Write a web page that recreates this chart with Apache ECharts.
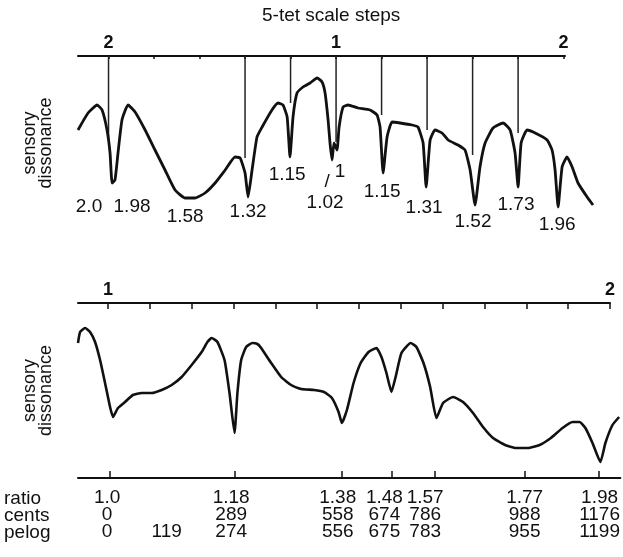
<!DOCTYPE html>
<html>
<head>
<meta charset="utf-8">
<script src="https://cdn.jsdelivr.net/npm/echarts@6/dist/echarts.min.js"></script>
<style>
  html, body { margin: 0; padding: 0; background: #fff; }
  #main { width: 623px; height: 557px; }
</style>
</head>
<body>
<div id="main"></div>
<script>
// top panel: dissonance curve against interval in cents (0 = unison "1")
var topCents = [-1361, -1308, -1260, -1234, -1208, -1192, -1181, -1166, -1150, -1129, -1097, -1060, -1007, -955, -902, -849, -796, -744, -691, -638, -585, -533, -506, -480, -464, -443, -417, -390, -338, -306, -280, -258, -243, -227, -206, -174, -137, -100, -74, -58, -42, -32, -21, -11, 5, 16, 37, 63, 116, 179, 216, 232, 248, 269, 295, 338, 401, 432, 459, 475, 496, 522, 559, 591, 643, 680, 707, 733, 759, 786, 828, 881, 918, 944, 960, 976, 1007, 1050, 1113, 1139, 1155, 1171, 1192, 1218, 1245, 1276, 1324, 1355];
var topDiss = [1.00, 1.17, 1.25, 1.20, 1.00, 0.77, 0.47, 0.50, 0.77, 1.10, 1.25, 1.18, 1.00, 0.80, 0.60, 0.40, 0.32, 0.32, 0.37, 0.47, 0.60, 0.73, 0.72, 0.57, 0.33, 0.60, 0.93, 1.03, 1.20, 1.27, 1.25, 1.13, 0.73, 1.13, 1.37, 1.43, 1.47, 1.52, 1.48, 1.37, 1.10, 0.87, 0.70, 0.87, 0.80, 1.03, 1.23, 1.25, 1.22, 1.20, 1.15, 1.03, 0.57, 0.93, 1.08, 1.07, 1.05, 1.03, 0.87, 0.43, 0.90, 1.00, 0.97, 0.90, 0.85, 0.80, 0.60, 0.25, 0.63, 0.87, 1.02, 1.07, 1.00, 0.77, 0.43, 0.87, 1.00, 0.97, 0.90, 0.80, 0.60, 0.23, 0.63, 0.73, 0.63, 0.47, 0.33, 0.25];

// 5-tet scale steps drawn as lines from the top axis down to the curve
var stepCents = [-1200, -480, -240, 0, 240, 480, 720, 960];
var stepEnd = [0.90, 0.72, 1.27, 0.88, 1.15, 1.00, 0.75, 0.97];
var stepTicks = [-1200, -960, -720, -480, -240, 0, 240, 480, 720, 960, 1200];

// ratio labels under the minima of the top curve
var dipText = ['2.0', '1.98', '1.58', '1.32', '1.15', '1.02', '/', '1', '1.15', '1.31', '1.52', '1.73', '1.96'];
var dipCents = [-1303, -1076, -796, -464, -258, -58, -47, 21, 243, 464, 722, 949, 1166];
var dipDiss = [0.23, 0.23, 0.13, 0.18, 0.55, 0.27, 0.48, 0.58, 0.38, 0.22, 0.08, 0.25, 0.05];

// bottom panel: dissonance curve, 0..1200 cents
var botCents = [-72, -67, -55, -43, -31, -19, -7, 5, 12, 24, 41, 60, 81, 105, 129, 153, 177, 201, 225, 239, 249, 263, 280, 292, 304, 311, 320, 332, 347, 359, 368, 392, 416, 440, 464, 495, 519, 538, 554, 562, 574, 590, 607, 626, 645, 657, 669, 681, 691, 705, 727, 741, 758, 774, 789, 805, 829, 853, 877, 901, 925, 954, 980, 1009, 1037, 1064, 1092, 1116, 1133, 1147, 1164, 1183, 1195, 1212, 1228];
var botDiss = [1.35, 1.46, 1.50, 1.46, 1.36, 1.18, 0.95, 0.71, 0.61, 0.70, 0.76, 0.83, 0.85, 0.85, 0.88, 0.93, 1.01, 1.13, 1.26, 1.36, 1.40, 1.36, 1.18, 0.85, 0.45, 0.85, 1.18, 1.31, 1.35, 1.34, 1.30, 1.15, 1.01, 0.93, 0.89, 0.88, 0.86, 0.80, 0.66, 0.55, 0.68, 0.95, 1.15, 1.26, 1.30, 1.21, 1.05, 0.86, 1.01, 1.25, 1.35, 1.31, 1.15, 0.91, 0.60, 0.75, 0.81, 0.76, 0.65, 0.51, 0.40, 0.33, 0.30, 0.30, 0.33, 0.40, 0.50, 0.56, 0.56, 0.50, 0.35, 0.16, 0.35, 0.53, 0.61];
var semitoneTicks = [0, 100, 200, 300, 400, 500, 600, 700, 800, 900, 1000, 1100, 1200];

// table under the bottom panel
var tickCents = [5, 304, 562, 681, 786, 1001, 1178];
var colCents = [-2, 141, 296, 552, 664, 762, 1001, 1181];
var ratioRow = ['1.0', '', '1.18', '1.38', '1.48', '1.57', '1.77', '1.98'];
var centsRow = ['0', '', '289', '558', '674', '786', '988', '1176'];
var pelogRow = ['0', '119', '274', '556', '675', '783', '955', '1199'];

var FONT = 'Liberation Sans';
var INK = '#111';

function zip(a, b) {
    return a.map(function (v, i) { return [v, b[i]]; });
}

function hiddenX(g, min, max) {
    return {
        gridIndex: g, type: 'value', min: min, max: max, show: false
    };
}

function scaleAxis(g, min, max, ticks, tickLen, labelValues) {
    return {
        gridIndex: g, type: 'value', position: 'top', min: min, max: max,
        axisLine: { onZero: false, lineStyle: { color: INK, width: 2 } },
        axisTick: { customValues: ticks, inside: true, length: tickLen, lineStyle: { color: INK, width: 1.5 } },
        axisLabel: {
            customValues: labelValues, margin: 4,
            fontSize: 18, fontWeight: 'bold', color: INK, fontFamily: FONT,
            formatter: function (v) { return v === 0 ? '1' : '2'; }
        },
        splitLine: { show: false }
    };
}

var chart = echarts.init(document.getElementById('main'));

var option = {
    animation: false,
    backgroundColor: '#fff',
    textStyle: { fontFamily: FONT, color: INK },
    graphic: [{
        type: 'text', left: 262, top: 6,
        style: { text: '5-tet scale steps', font: '19px ' + FONT, fill: INK }
    }, {
        type: 'text', left: 4, top: 489,
        style: { text: 'ratio\ncents\npelog', font: '19px ' + FONT, fill: INK, lineHeight: 17 }
    }],
    grid: [
        { left: 78, top: 56, width: 487, height: 174 },   // top scale axis
        { left: 78, top: 56, width: 515, height: 174 },   // top curve
        { left: 78, top: 303, width: 532, height: 175 },  // bottom scale axis
        { left: 78, top: 303, width: 545, height: 175 }   // bottom curve + table axis
    ],
    xAxis: [
        scaleAxis(0, -1361, 1208, stepTicks, 3, [-1200, 0, 1200]),
        hiddenX(1, -1361, 1355),
        scaleAxis(2, -72, 1200, semitoneTicks, 6, [0, 1200]),
        {
            gridIndex: 3, type: 'value', position: 'bottom', min: -72, max: 1231,
            axisLine: { onZero: false, lineStyle: { color: INK, width: 2 } },
            axisTick: { customValues: tickCents, inside: true, length: 7, lineStyle: { color: INK, width: 1.5 } },
            axisLabel: {
                customValues: colCents, margin: 11,
                fontSize: 19, lineHeight: 17, color: INK, fontFamily: FONT,
                formatter: function (v) {
                    var i = colCents.indexOf(v);
                    return [ratioRow[i], centsRow[i], pelogRow[i]].join('\n');
                }
            },
            splitLine: { show: false }
        }
    ],
    yAxis: [0, 1, 2, 3].map(function (g) {
        return {
            gridIndex: g, type: 'value', min: 0, max: g < 2 ? 1.74 : 1.75,
            axisLine: { show: false }, axisTick: { show: false },
            axisLabel: { show: false }, splitLine: { show: false },
            name: (g === 0 || g === 2) ? 'sensory\ndissonance' : '',
            nameLocation: 'middle', nameRotate: 90, nameGap: 24,
            nameTextStyle: { fontSize: 18, lineHeight: 16, color: INK, fontFamily: FONT }
        };
    }),
    series: [{
        type: 'line', xAxisIndex: 1, yAxisIndex: 1,
        data: zip(topCents, topDiss),
        showSymbol: false, smooth: 0.15,
        lineStyle: { color: INK, width: 2.8 }
    }, {
        type: 'custom', xAxisIndex: 1, yAxisIndex: 1,
        data: zip(stepCents, stepEnd),
        renderItem: function (params, api) {
            var a = api.coord([api.value(0), 1.74]);
            var b = api.coord([api.value(0), api.value(1)]);
            return {
                type: 'line',
                shape: { x1: a[0], y1: a[1], x2: b[0], y2: b[1] },
                style: { stroke: '#222', lineWidth: 1.5 }
            };
        }
    }, {
        type: 'custom', xAxisIndex: 1, yAxisIndex: 1,
        data: dipText.map(function (t, i) { return [dipCents[i], dipDiss[i]]; }),
        renderItem: function (params, api) {
            var p = api.coord([api.value(0), api.value(1)]);
            return {
                type: 'text',
                x: p[0], y: p[1],
                style: {
                    text: dipText[params.dataIndex],
                    font: '19px ' + FONT, fill: INK,
                    align: 'center', verticalAlign: 'middle'
                }
            };
        }
    }, {
        type: 'line', xAxisIndex: 3, yAxisIndex: 3,
        data: zip(botCents, botDiss),
        showSymbol: false, smooth: 0.15,
        lineStyle: { color: INK, width: 2.6 }
    }]
};

chart.setOption(option);
</script>
</body>
</html>
